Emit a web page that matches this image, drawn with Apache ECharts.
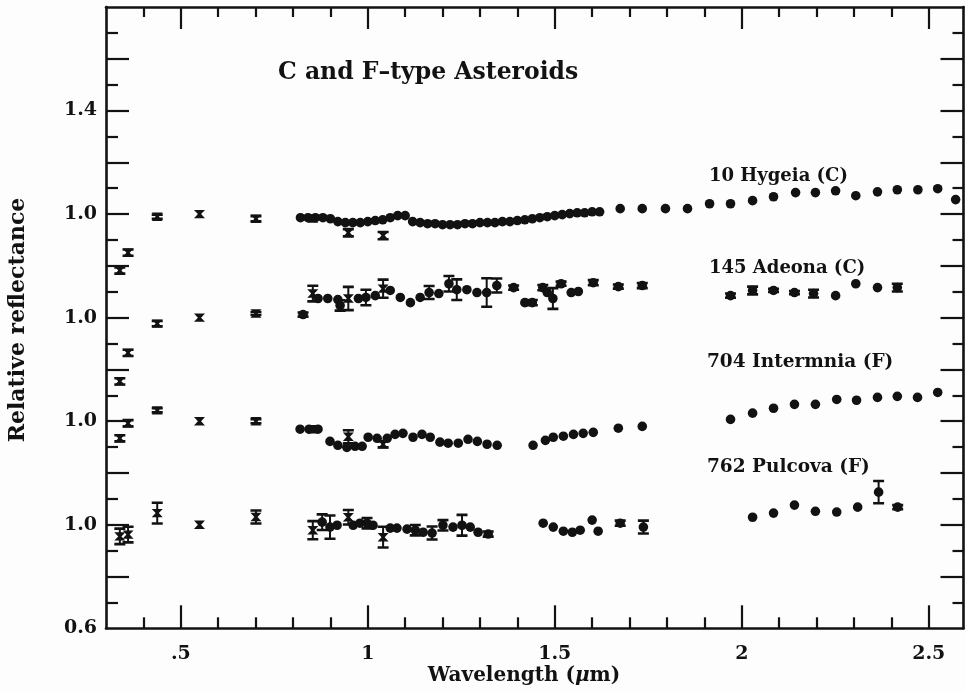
<!DOCTYPE html>
<html>
<head>
<meta charset="utf-8">
<script src="https://cdn.jsdelivr.net/npm/echarts@6/dist/echarts.min.js"></script>
<style>
  html, body { margin: 0; padding: 0; background: #fff; }
  #chart { width: 965px; height: 691px; }
</style>
</head>
<body>
<div id="chart"></div>
<script>
// Spectra are [wavelength (µm), relative reflectance, 1-sigma error]
// ECAS broadband filters (drawn with hourglass marks)
const hygeiaEcas = [
  [0.337, 0.782, 0.012], [0.359, 0.851, 0.012], [0.437, 0.990, 0.008], [0.550, 1.000, 0],
  [0.701, 0.982, 0.010], [0.853, 0.983, 0], [0.948, 0.928, 0.014], [1.041, 0.917, 0.014]
];
const adeonaEcas = [
  [0.337, 0.754, 0.012], [0.359, 0.864, 0.012], [0.437, 0.977, 0.010], [0.550, 1.000, 0],
  [0.701, 1.016, 0.006], [0.853, 1.093, 0.030], [0.948, 1.074, 0.045], [1.041, 1.112, 0.035]
];
const intermniaEcas = [
  [0.337, 0.934, 0.012], [0.359, 0.992, 0.012], [0.437, 1.042, 0.008], [0.550, 1.000, 0],
  [0.701, 1.000, 0.008], [0.853, 0.969, 0], [0.948, 0.940, 0.025], [1.041, 0.911, 0.012]
];
const pulcovaEcas = [
  [0.337, 0.955, 0.030], [0.359, 0.962, 0.030], [0.437, 1.045, 0.040], [0.550, 1.000, 0],
  [0.701, 1.030, 0.025], [0.853, 0.979, 0.035], [0.948, 1.029, 0.028], [1.041, 0.952, 0.040]
];

// 52-color infrared survey (drawn with filled dots)
const hygeia52 = [
  [0.82, 0.986, 0], [0.84, 0.986, 0], [0.86, 0.986, 0], [0.88, 0.986, 0], [0.90, 0.982, 0],
  [0.92, 0.971, 0], [0.94, 0.967, 0], [0.96, 0.967, 0], [0.98, 0.967, 0], [1.00, 0.971, 0],
  [1.02, 0.975, 0], [1.04, 0.978, 0], [1.06, 0.986, 0], [1.08, 0.994, 0], [1.10, 0.994, 0],
  [1.12, 0.971, 0], [1.14, 0.967, 0], [1.16, 0.963, 0], [1.18, 0.963, 0], [1.20, 0.959, 0],
  [1.22, 0.959, 0], [1.24, 0.959, 0], [1.26, 0.963, 0], [1.28, 0.963, 0], [1.30, 0.967, 0],
  [1.32, 0.967, 0], [1.34, 0.967, 0], [1.36, 0.971, 0], [1.38, 0.971, 0], [1.40, 0.975, 0],
  [1.42, 0.978, 0], [1.44, 0.982, 0], [1.46, 0.986, 0], [1.48, 0.990, 0], [1.50, 0.994, 0],
  [1.52, 0.998, 0], [1.54, 1.002, 0], [1.56, 1.005, 0], [1.58, 1.005, 0], [1.60, 1.009, 0],
  [1.62, 1.009, 0],
  [1.675, 1.021, 0], [1.734, 1.021, 0], [1.796, 1.021, 0], [1.855, 1.021, 0], [1.914, 1.040, 0],
  [1.970, 1.040, 0], [2.029, 1.052, 0], [2.085, 1.067, 0], [2.144, 1.083, 0], [2.197, 1.083, 0],
  [2.251, 1.090, 0], [2.305, 1.071, 0], [2.363, 1.086, 0], [2.416, 1.094, 0], [2.471, 1.094, 0],
  [2.524, 1.098, 0], [2.572, 1.056, 0]
];
const adeona52 = [
  [0.827, 1.012, 0.008], [0.867, 1.074, 0], [0.893, 1.074, 0], [0.920, 1.070, 0], [0.926, 1.047, 0.020],
  [0.975, 1.074, 0], [0.995, 1.078, 0.030], [1.020, 1.085, 0], [1.060, 1.105, 0], [1.087, 1.078, 0],
  [1.114, 1.058, 0], [1.140, 1.078, 0], [1.164, 1.097, 0.025], [1.190, 1.093, 0], [1.217, 1.131, 0.030],
  [1.238, 1.108, 0.040], [1.265, 1.108, 0], [1.292, 1.097, 0], [1.318, 1.097, 0.055], [1.345, 1.124, 0.027],
  [1.390, 1.116, 0.008], [1.420, 1.058, 0], [1.440, 1.058, 0.010], [1.468, 1.116, 0.010], [1.480, 1.097, 0],
  [1.495, 1.074, 0.040], [1.517, 1.131, 0.008], [1.544, 1.097, 0], [1.563, 1.101, 0], [1.603, 1.135, 0.010],
  [1.670, 1.120, 0.008], [1.734, 1.124, 0.010],
  [1.970, 1.085, 0.008], [2.029, 1.105, 0.015], [2.085, 1.105, 0.006], [2.141, 1.097, 0.006],
  [2.192, 1.093, 0.015], [2.251, 1.085, 0], [2.305, 1.131, 0], [2.363, 1.116, 0], [2.416, 1.116, 0.015]
];
const intermnia52 = [
  [0.819, 0.969, 0], [0.843, 0.969, 0], [0.867, 0.969, 0], [0.899, 0.922, 0], [0.920, 0.907, 0],
  [0.944, 0.899, 0], [0.966, 0.903, 0], [0.985, 0.903, 0], [1.001, 0.938, 0], [1.025, 0.934, 0],
  [1.052, 0.934, 0], [1.073, 0.949, 0], [1.094, 0.953, 0], [1.121, 0.938, 0], [1.145, 0.949, 0],
  [1.167, 0.938, 0], [1.193, 0.919, 0], [1.215, 0.915, 0], [1.242, 0.915, 0], [1.268, 0.930, 0],
  [1.293, 0.922, 0], [1.319, 0.911, 0], [1.346, 0.907, 0],
  [1.442, 0.907, 0], [1.475, 0.926, 0], [1.496, 0.938, 0], [1.523, 0.942, 0], [1.550, 0.949, 0],
  [1.576, 0.953, 0], [1.603, 0.957, 0], [1.670, 0.973, 0], [1.734, 0.980, 0],
  [1.970, 1.007, 0], [2.029, 1.031, 0], [2.085, 1.050, 0], [2.141, 1.065, 0], [2.197, 1.065, 0],
  [2.254, 1.084, 0], [2.307, 1.081, 0], [2.363, 1.092, 0], [2.416, 1.096, 0], [2.470, 1.092, 0],
  [2.524, 1.111, 0]
];
const pulcova52 = [
  [0.878, 1.010, 0.030], [0.899, 0.991, 0.045], [0.918, 0.998, 0], [0.961, 0.998, 0], [0.979, 1.006, 0],
  [0.998, 1.006, 0.020], [1.014, 0.998, 0], [1.060, 0.987, 0], [1.078, 0.987, 0], [1.105, 0.983, 0],
  [1.127, 0.979, 0.020], [1.148, 0.971, 0], [1.172, 0.968, 0.025], [1.201, 0.998, 0.020], [1.228, 0.991, 0],
  [1.252, 0.998, 0.040], [1.274, 0.991, 0], [1.295, 0.971, 0], [1.322, 0.964, 0.010],
  [1.469, 1.006, 0], [1.496, 0.991, 0], [1.523, 0.975, 0], [1.547, 0.971, 0], [1.568, 0.979, 0],
  [1.600, 1.018, 0], [1.616, 0.975, 0], [1.675, 1.006, 0.010], [1.737, 0.991, 0.025],
  [2.029, 1.029, 0], [2.085, 1.045, 0], [2.141, 1.076, 0], [2.197, 1.052, 0], [2.254, 1.049, 0],
  [2.310, 1.068, 0], [2.366, 1.126, 0.043], [2.417, 1.068, 0.008]
];

// Each spectrum is raised by a fixed step so they can be stacked
const names = ['10 Hygeia (C)', '145 Adeona (C)', '704 Intermnia (F)', '762 Pulcova (F)'];
const offsets = [1.2, 0.8, 0.4, 0.0];
const ecasSets = [hygeiaEcas, adeonaEcas, intermniaEcas, pulcovaEcas];
const colorSets = [hygeia52, adeona52, intermnia52, pulcova52];

// Axis ticks and labels
const xMajor = [0.5, 1.0, 1.5, 2.0, 2.5];
const xMinor = [0.4, 0.6, 0.7, 0.8, 0.9, 1.1, 1.2, 1.3, 1.4, 1.6, 1.7, 1.8, 1.9, 2.1, 2.2, 2.3, 2.4];
const xTickLabels = ['.5', '1', '1.5', '2', '2.5'];
const yMajor = [0.8, 1.0, 1.2, 1.4, 1.6, 1.8, 2.0, 2.2, 2.4, 2.6, 2.8];
const yMinor = [0.7, 0.9, 1.1, 1.3, 1.5, 1.7, 1.9, 2.1, 2.3, 2.5, 2.7, 2.9];
const yLabelValues = [0.6, 1.0, 1.4, 1.8, 2.2, 2.6];
const yTickLabels = ['0.6', '1.0', '1.0', '1.0', '1.0', '1.4'];

const INK = '#121212';
const SERIF = '"DejaVu Serif", "Liberation Serif", serif';

function makeRenderer(kind) {
  return function (params, api) {
    const w = api.value(0), r = api.value(1), e = api.value(2);
    const c = api.coord([w, r]);
    const x = c[0], y = c[1];
    const children = [];
    if (e > 0) {
      const yt = api.coord([w, r + e])[1];
      const yb = api.coord([w, r - e])[1];
      const capW = 5.5;
      children.push({ type: 'line', shape: { x1: x, y1: yt, x2: x, y2: yb }, style: { stroke: INK, lineWidth: 2 } });
      children.push({ type: 'line', shape: { x1: x - capW, y1: yt, x2: x + capW, y2: yt }, style: { stroke: INK, lineWidth: 2.6 } });
      children.push({ type: 'line', shape: { x1: x - capW, y1: yb, x2: x + capW, y2: yb }, style: { stroke: INK, lineWidth: 2.6 } });
    }
    if (kind === 'ecas') {
      const h = 4.2, hw = 5.5;
      children.push({
        type: 'polygon',
        shape: { points: [[x - hw, y - h], [x + hw, y - h], [x + 1.6, y], [x + hw, y + h], [x - hw, y + h], [x - 1.6, y]] },
        style: { fill: INK }
      });
    } else {
      children.push({ type: 'circle', shape: { cx: x, cy: y, r: 4.8 }, style: { fill: INK } });
    }
    return { type: 'group', children: children };
  };
}

const series = [];
for (let i = 0; i < names.length; i++) {
  const off = offsets[i];
  series.push({
    name: names[i] + ' ECAS', type: 'custom', xAxisIndex: 0, yAxisIndex: 0,
    renderItem: makeRenderer('ecas'), clip: true,
    data: ecasSets[i].map(p => [p[0], p[1] + off, p[2]])
  });
  series.push({
    name: names[i] + ' 52-color', type: 'custom', xAxisIndex: 0, yAxisIndex: 0,
    renderItem: makeRenderer('dot'), clip: true,
    data: colorSets[i].map(p => [p[0], p[1] + off, p[2]])
  });
}

const XMIN = 0.3, XMAX = 2.593, YMIN = 0.6, YMAX = 3.0;
const lineStyle = { color: INK, width: 2.6 };
const tickStyle = { color: INK, width: 2.2 };
const labelFont = { color: INK, fontFamily: SERIF, fontWeight: 'bold', fontSize: 19 };

function xAxisDef(position, values, length, withLabels, showLine) {
  return {
    type: 'value', position: position, min: XMIN, max: XMAX,
    axisLine: { show: showLine, onZero: false, lineStyle: lineStyle },
    axisTick: { show: true, inside: true, length: length, customValues: values, lineStyle: tickStyle },
    axisLabel: withLabels ? Object.assign({
      show: true, margin: 16, customValues: xMajor,
      formatter: v => { const k = xMajor.findIndex(m => Math.abs(m - v) < 1e-6); return k >= 0 ? xTickLabels[k] : ''; }
    }, labelFont) : { show: false },
    splitLine: { show: false }
  };
}
function yAxisDef(position, values, length, withLabels, showLine) {
  return {
    type: 'value', position: position, min: YMIN, max: YMAX,
    axisLine: { show: showLine, onZero: false, lineStyle: lineStyle },
    axisTick: { show: true, inside: true, length: length, customValues: values, lineStyle: tickStyle },
    axisLabel: withLabels ? Object.assign({
      show: true, margin: 9, customValues: yLabelValues,
      formatter: v => { const k = yLabelValues.findIndex(m => Math.abs(m - v) < 1e-6); return k >= 0 ? yTickLabels[k] : ''; }
    }, labelFont) : { show: false },
    splitLine: { show: false }
  };
}

const chart = echarts.init(document.getElementById('chart'), null, { renderer: 'canvas' });
chart.setOption({
  animation: false,
  backgroundColor: '#fdfdfd',
  grid: { left: 106, right: 1.5, top: 7, bottom: 62.7, containLabel: false },
  xAxis: [
    xAxisDef('bottom', xMajor, 23, true, true),
    xAxisDef('bottom', xMinor, 11, false, false),
    xAxisDef('top', xMajor, 22, false, true),
    xAxisDef('top', xMinor, 10, false, false)
  ],
  yAxis: [
    yAxisDef('left', yMajor, 23, true, true),
    yAxisDef('left', yMinor, 12, false, false),
    yAxisDef('right', yMajor, 23, false, true),
    yAxisDef('right', yMinor, 11, false, false)
  ],
  series: series,
  graphic: [
    { type: 'text', x: 278, y: 73, style: { text: 'C and F\u2013type Asteroids', font: 'bold 23.5px ' + SERIF, fill: INK, align: 'left', verticalAlign: 'middle' } },
    { type: 'text', x: 709, y: 176, style: { text: names[0], font: 'bold 18px ' + SERIF, fill: INK, align: 'left', verticalAlign: 'middle' } },
    { type: 'text', x: 709, y: 268, style: { text: names[1], font: 'bold 18px ' + SERIF, fill: INK, align: 'left', verticalAlign: 'middle' } },
    { type: 'text', x: 707, y: 362, style: { text: names[2], font: 'bold 18.5px ' + SERIF, fill: INK, align: 'left', verticalAlign: 'middle' } },
    { type: 'text', x: 707, y: 467, style: { text: names[3], font: 'bold 18.5px ' + SERIF, fill: INK, align: 'left', verticalAlign: 'middle' } },
    { type: 'text', x: 18, y: 320, rotation: Math.PI / 2, style: { text: 'Relative reflectance', font: 'bold 22px ' + SERIF, fill: INK, align: 'center', verticalAlign: 'middle' } },
    { type: 'text', x: 524, y: 676, style: {
        text: 'Wavelength ({i|\u03bc}m)', font: 'bold 20px ' + SERIF, fill: INK, align: 'center', verticalAlign: 'middle',
        rich: { i: { fontFamily: SERIF, fontWeight: 'bold', fontStyle: 'italic', fontSize: 20, fill: INK } }
      } }
  ]
});
</script>
</body>
</html>
